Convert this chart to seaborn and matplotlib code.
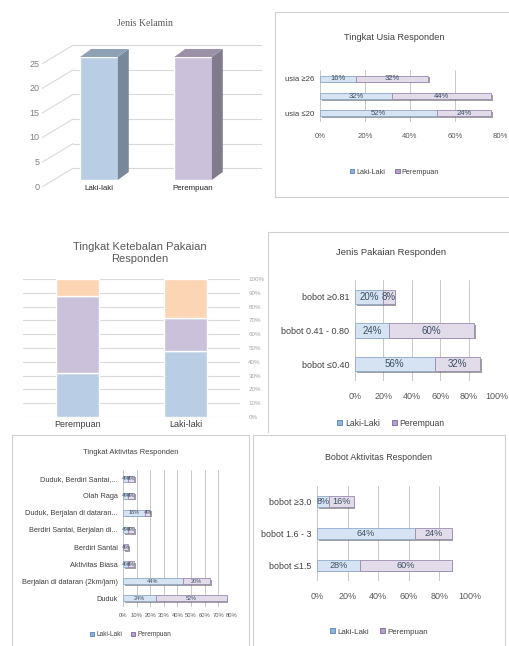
import numpy as np
import pandas as pd
import seaborn as sns
import matplotlib.pyplot as plt
import matplotlib.patheffects as pe
from matplotlib.patches import Polygon, Patch
from matplotlib.ticker import MultipleLocator, FuncFormatter
from matplotlib.transforms import ScaledTranslation

sns.set_theme(style="white")
plt.rcParams["font.family"] = ["Liberation Sans", "DejaVu Sans"]

# ---- data ----
gender_labels = ["Laki-laki", "Perempuan"]
gender_counts = [25, 25]

usia_labels = ["usia ≥26", "", "usia ≤20"]
usia_laki = [16, 32, 52]
usia_perempuan = [32, 44, 24]

tebal_labels = ["Perempuan", "Laki-laki"]
tebal_bawah = [32, 48]
tebal_tengah = [56, 24]
tebal_atas = [12, 28]

pakaian_labels = ["bobot ≥0.81", "bobot 0.41 - 0.80", "bobot ≤0.40"]
pakaian_laki = [20, 24, 56]
pakaian_perempuan = [8, 60, 32]

aktivitas_labels = ["Duduk, Berdiri Santai,...", "Olah Raga",
                    "Duduk, Berjalan di dataran...", "Berdiri Santai, Berjalan di...",
                    "Berdiri Santai", "Aktivitas Biasa",
                    "Berjalan di dataran (2km/jam)", "Duduk"]
aktivitas_laki = [4, 4, 16, 4, 0, 4, 44, 24]
aktivitas_perempuan = [4, 4, 4, 4, 4, 4, 20, 52]

bobot_labels = ["bobot ≥3.0", "bobot 1.6 - 3", "bobot ≤1.5"]
bobot_laki = [8, 64, 28]
bobot_perempuan = [16, 24, 60]

legend_names = ["Laki-Laki", "Perempuan"]

# colours
BLUE = "#b9cde5"
PURPLE = "#ccc1da"
ORANGE = "#fcd5b5"
LAKI_FACE, LAKI_EDGE = "#d6e3f2", "#8eaacc"
PER_FACE, PER_EDGE = "#e2dbea", "#9b8bb0"
LABEL_C = "#3d5066"
TEXT_C = "#404040"

W, H = 510, 646
fig = plt.figure(figsize=(W / 100, H / 100), dpi=100)


def box(x0, y0, x1, y1):
    return [x0 / W, 1 - y1 / H, (x1 - x0) / W, (y1 - y0) / H]


def frame(x0, y0, x1, y1, bottom=True):
    f = fig.add_axes(box(x0, y0, x1, y1))
    f.set_xticks([])
    f.set_yticks([])
    f.set_facecolor("none")
    for s in f.spines.values():
        s.set_color("#d0d0d0")
        s.set_linewidth(0.8)
    f.spines["bottom"].set_visible(bottom)
    f.set_zorder(0)
    return f


def pct(x, pos):
    return f"{x:.0f}%"


def hstack(ax, labels, laki, perempuan, xmax, step, width, fs_bar, fs_y, fs_x):
    df = pd.DataFrame({"kategori": labels, "laki": laki, "perempuan": perempuan})
    shadow = [pe.SimplePatchShadow(offset=(1.2, -1.2), shadow_rgbFace="#555555", alpha=0.55),
              pe.Normal()]
    sns.barplot(data=df, x="laki", y="kategori", ax=ax, color=LAKI_FACE, saturation=1,
                edgecolor=LAKI_EDGE, linewidth=0.6, width=width)
    c1 = ax.containers[-1]
    sns.barplot(data=df, x="perempuan", y="kategori", ax=ax, color=PER_FACE, saturation=1,
                edgecolor=PER_EDGE, linewidth=0.6, width=width, left=df["laki"].to_numpy())
    c2 = ax.containers[-1]
    for c, vals in ((c1, laki), (c2, perempuan)):
        for p in c:
            p.set_path_effects(shadow)
        ax.bar_label(c, labels=[f"{v}%" if v else "" for v in vals], label_type="center",
                     fontsize=fs_bar, color=LABEL_C)
    ax.set_xlim(0, xmax)
    ax.xaxis.set_major_locator(MultipleLocator(step))
    ax.xaxis.set_major_formatter(FuncFormatter(pct))
    ax.grid(axis="x", color="#bfbfbf", lw=0.6)
    ax.set_axisbelow(True)
    ax.set_facecolor("none")
    for s in ax.spines.values():
        s.set_visible(False)
    ax.set_xlabel("")
    ax.set_ylabel("")
    ax.tick_params(axis="y", length=0, labelsize=fs_y, labelcolor=TEXT_C, pad=4)
    ax.tick_params(axis="x", length=0, labelsize=fs_x, labelcolor="#595959", pad=8)


def legend(f, y, fs):
    handles = [Patch(facecolor="#95b3d7", edgecolor="#4f81bd", lw=0.6),
               Patch(facecolor="#b3a2c7", edgecolor="#8064a2", lw=0.6)]
    f.legend(handles, legend_names, loc="center", bbox_to_anchor=(0.5, y), ncol=2,
             frameon=False, fontsize=fs, handlelength=0.6, handleheight=0.6,
             handletextpad=0.3, columnspacing=1.4, labelcolor=TEXT_C)


# ---- Jenis Kelamin (3D columns) ----
ax1 = fig.add_axes(box(42, 40, 262, 190))
df1 = pd.DataFrame({"jenis": gender_labels, "jumlah": gender_counts})
sns.barplot(data=df1, x="jenis", y="jumlah", hue="jenis", palette=[BLUE, PURPLE],
            saturation=1, width=0.4, legend=False, ax=ax1)
ax1.set_xlim(-0.606, 1.734)
ax1.set_ylim(-2.03, 28.46)
dx, dy = 0.117, 1.63
side_c = ["#768899", "#827b8d"]
top_c = ["#8fa1b5", "#9d91a8"]
for p, sc, tc in zip(ax1.patches, side_c, top_c):
    x0, w, h = p.get_x(), p.get_width(), p.get_height()
    ax1.add_patch(Polygon([(x0 + w, 0), (x0 + w + dx, dy), (x0 + w + dx, h + dy), (x0 + w, h)],
                          closed=True, facecolor=sc, edgecolor="none"))
    ax1.add_patch(Polygon([(x0, h), (x0 + dx, h + dy), (x0 + w + dx, h + dy), (x0 + w, h)],
                          closed=True, facecolor=tc, edgecolor="none"))
ticks1 = np.arange(0, 30, 5)
x_left = ax1.get_xlim()[0]
for t in ticks1:
    ax1.plot([x_left, x_left + 0.33], [t - 1.4, t + 2.4], color="#d9d9d9", lw=0.8, zorder=0)
    ax1.plot([x_left + 0.33, ax1.get_xlim()[1]], [t + 2.4, t + 2.4], color="#d9d9d9",
             lw=0.8, zorder=0)
ax1.set_yticks(ticks1)
ax1.tick_params(axis="y", length=0, labelsize=6.5, labelcolor="#7f7f7f", pad=2)
for lab in ax1.get_yticklabels():
    lab.set_transform(lab.get_transform() + ScaledTranslation(0, -0.06, fig.dpi_scale_trans))
ax1.tick_params(axis="x", length=0, labelsize=5.7, labelcolor="#262626", pad=-3.5)
for s in ax1.spines.values():
    s.set_visible(False)
ax1.set_xlabel("")
ax1.set_ylabel("")
ax1.set_facecolor("none")
fig.text(145 / W, 1 - 24 / H, "Jenis Kelamin", ha="center", va="center", fontsize=7,
         color="#595959", family="Liberation Serif")

# ---- Tingkat Usia Responden ----
f2 = frame(275, 12, 514, 197)
f2.text(0.5, (197 - 37) / 185, "Tingkat Usia Responden", ha="center", va="center",
        fontsize=6.6, color=TEXT_C, transform=f2.transAxes)
ax2 = fig.add_axes(box(320, 70, 500, 122))
hstack(ax2, usia_labels, usia_laki, usia_perempuan, 80, 20, 0.35, 5.5, 5.6, 5.6)
legend(f2, (197 - 172) / 185, 5.2)

# ---- Tingkat Ketebalan Pakaian Responden ----
ax3 = fig.add_axes(box(23, 279, 240, 417))
sns.barplot(x=tebal_labels, y=tebal_bawah, color=BLUE, saturation=1, width=0.4, ax=ax3)
sns.barplot(x=tebal_labels, y=tebal_tengah, color=PURPLE, saturation=1, width=0.4, ax=ax3,
            bottom=np.array(tebal_bawah))
sns.barplot(x=tebal_labels, y=tebal_atas, color=ORANGE, saturation=1, width=0.4, ax=ax3,
            bottom=np.add(tebal_bawah, tebal_tengah))
ax3.set_xlim(-0.5, 1.5)
ax3.set_ylim(0, 100)
ax3.yaxis.tick_right()
ax3.yaxis.set_major_locator(MultipleLocator(10))
ax3.yaxis.set_major_formatter(FuncFormatter(pct))
ax3.grid(axis="y", color="#d9d9d9", lw=0.8)
ax3.set_axisbelow(True)
for s in ax3.spines.values():
    s.set_visible(False)
ax3.tick_params(axis="y", length=0, labelsize=4.5, labelcolor="#a6a6a6", pad=6)
ax3.tick_params(axis="x", length=0, labelsize=6.5, labelcolor="#404040", pad=2)
fig.text(140 / W, 1 - 253 / H, "Tingkat Ketebalan Pakaian\nResponden", ha="center",
         va="center", fontsize=8, color="#595959", linespacing=1.3)

# ---- Jenis Pakaian Responden ----
f4 = frame(268, 232, 514, 432, bottom=False)
f4.text(0.5, (432 - 253) / 200, "Jenis Pakaian Responden", ha="center", va="center",
        fontsize=6.8, color=TEXT_C, transform=f4.transAxes)
ax4 = fig.add_axes(box(355, 280, 497, 381))
hstack(ax4, pakaian_labels, pakaian_laki, pakaian_perempuan, 100, 20, 0.42, 7, 6.5, 6.5)
legend(f4, (432 - 423) / 200, 6.2)

# ---- Tingkat Aktivitas Responden ----
f5 = frame(12, 435, 249, 650)
f5.text(0.5, (650 - 452) / 215, "Tingkat Aktivitas Responden", ha="center", va="center",
        fontsize=5.4, color=TEXT_C, transform=f5.transAxes)
ax5 = fig.add_axes(box(123, 470, 232, 607))
hstack(ax5, aktivitas_labels, aktivitas_laki, aktivitas_perempuan, 80, 10, 0.35, 4, 5.3, 4.2)
ax5.tick_params(axis="x", pad=4)
legend(f5, (650 - 635) / 215, 4.7)

# ---- Bobot Aktivitas Responden ----
f6 = frame(253, 435, 505, 650)
f6.text(0.5, (650 - 458) / 215, "Bobot Aktivitas Responden", ha="center", va="center",
        fontsize=6.4, color=TEXT_C, transform=f6.transAxes)
ax6 = fig.add_axes(box(317, 486, 470, 581))
hstack(ax6, bobot_labels, bobot_laki, bobot_perempuan, 100, 20, 0.35, 6.6, 6.4, 6.5)
legend(f6, (650 - 632) / 215, 5.7)

fig.savefig("out.png", dpi=100)
